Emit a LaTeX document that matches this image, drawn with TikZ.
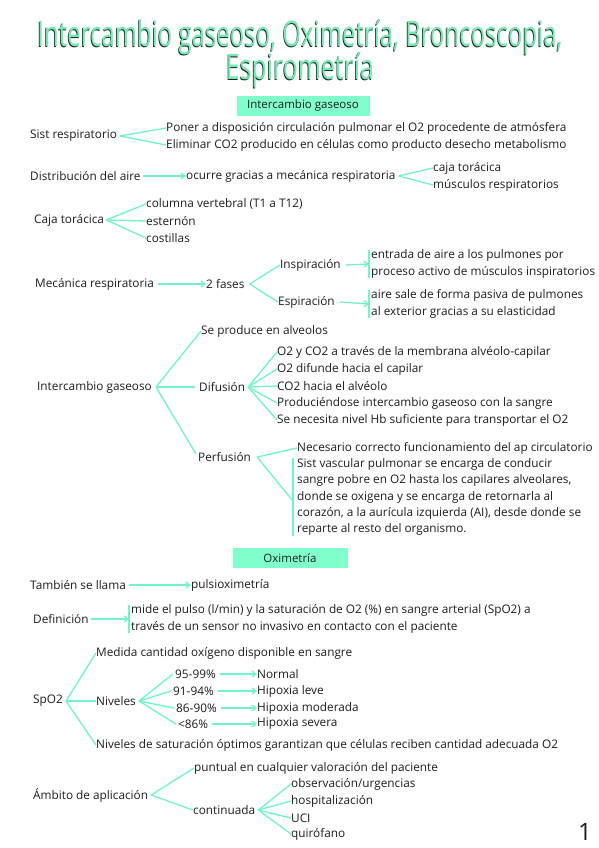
\documentclass[tikz,border=0pt]{standalone}
\usepackage{fontspec}
\setmainfont{Open Sans}
\usetikzlibrary{arrows.meta}
\definecolor{mint}{RGB}{110,245,200}
\definecolor{boxmint}{RGB}{128,255,204}
\definecolor{ink}{RGB}{30,30,30}
\definecolor{titlegreen}{RGB}{115,235,180}
\newcommand{\ttl}[2]{\resizebox{#1}{27pt}{#2}}
\begin{document}
\begin{tikzpicture}[x=1pt,y=-1pt,
 txt/.style={anchor=west,inner sep=0pt,text=ink,font=\fontsize{11.8}{16.4}\selectfont},
 para/.style={txt,align=left},
 br/.style={draw=mint,line width=1.3pt},
 arr/.style={br,-{Straight Barb[length=4pt,width=6pt]}},
 hdr/.style={fill=boxmint,inner sep=0pt,minimum height=20pt,text=ink,font=\fontsize{11.5}{13}\selectfont},
 bar/.style={draw=mint,line width=1.3pt},
 ttlnode/.style={inner sep=0,anchor=base}]
\useasboundingbox (0,0) rectangle (599,848);
\fill[white] (0,0) rectangle (599,848);
% title
\node[ttlnode,text=ink] (t1s) at (299.3,47.7) {\ttl{525pt}{Intercambio gaseoso, Oximetría, Broncoscopia,}};
\node[ttlnode,text=titlegreen] (t1) at (300,47) {\ttl{525pt}{Intercambio gaseoso, Oximetría, Broncoscopia,}};
\node[ttlnode,text=ink] (t2s) at (299.3,80.7) {\ttl{148pt}{Espirometría}};
\node[ttlnode,text=titlegreen] (t2) at (300,80) {\ttl{148pt}{Espirometría}};
\node[hdr,minimum width=133pt] (h1) at (303,106) {Intercambio gaseoso};
% Sist respiratorio
\node[txt] (sist) at (30,136) {Sist respiratorio};
\node[txt] (s1) at (166,128) {Poner a disposición circulación pulmonar el O2 procedente de atmósfera};
\node[txt] (s2) at (166,145) {Eliminar CO2 producido en células como producto desecho metabolismo};
\draw[br] ([xshift=3pt]sist.east) -- (s1.west);
\draw[br] ([xshift=3pt]sist.east) -- (s2.west);
% Distribucion
\node[txt] (dist) at (30,176) {Distribución del aire};
\node[txt] (ocu) at (186,176) {ocurre gracias a mecánica respiratoria};
\draw[arr] ([xshift=2pt]dist.east) -- (ocu.west);
\node[txt] (ct1) at (433,168) {caja torácica};
\node[txt] (mr1) at (433,185) {músculos respiratorios};
\draw[br] ([xshift=3pt]ocu.east) -- (ct1.west);
\draw[br] ([xshift=3pt]ocu.east) -- (mr1.west);
% Caja toracica
\node[txt] (caja) at (34,220) {Caja torácica};
\node[txt] (c1) at (146,204) {columna vertebral (T1 a T12)};
\node[txt] (c2) at (146,221) {esternón};
\node[txt] (c3) at (146,238) {costillas};
\foreach \n in {c1,c2,c3}{\draw[br] ([xshift=2pt]caja.east) -- (\n.west);}
% Mecanica
\node[txt] (mec) at (35,284) {Mecánica respiratoria};
\node[txt] (fases) at (206,284) {2 fases};
\draw[arr] ([xshift=4pt]mec.east) -- (fases.west);
\node[txt] (insp) at (280,265) {Inspiración};
\node[txt] (esp) at (278,302) {Espiración};
\draw[br] ([xshift=5pt]fases.east) -- (insp.west);
\draw[br] ([xshift=5pt]fases.east) -- (esp.west);
\node[para] (ip) at (371,264) {entrada de aire a los pulmones por\\proceso activo de músculos inspiratorios};
\node[para] (ep) at (371,304) {aire sale de forma pasiva de pulmones\\al exterior gracias a su elasticidad};
\draw[bar] ([xshift=-2pt]ip.north west) -- ([xshift=-2pt]ip.south west);
\draw[bar] ([xshift=-2pt]ep.north west) -- ([xshift=-2pt]ep.south west);
\draw[arr] ([xshift=5pt]insp.east) -- ([xshift=-2pt]ip.west);
\draw[arr] ([xshift=5pt]esp.east) -- ([xshift=-2pt]ep.west);
% Intercambio gaseoso
\node[txt] (ig) at (37,387) {Intercambio gaseoso};
\node[txt] (alv) at (201,331) {Se produce en alveolos};
\node[txt] (dif) at (199,387) {Difusión};
\node[txt] (perf) at (198,457) {Perfusión};
\draw[br] ([xshift=4pt]ig.east) -- (alv.west);
\draw[br] ([xshift=4pt]ig.east) -- ([xshift=-4pt]dif.west);
\draw[br] ([xshift=4pt]ig.east) -- ([xshift=-2pt,yshift=3pt]perf.west);
\node[txt] (d1) at (277,352) {O2 y CO2 a través de la membrana alvéolo-capilar};
\node[txt] (d2) at (277,369) {O2 difunde hacia el capilar};
\node[txt] (d3) at (277,386) {CO2 hacia el alvéolo};
\node[txt] (d4) at (277,403) {Produciéndose intercambio gaseoso con la sangre};
\node[txt] (d5) at (277,420) {Se necesita nivel Hb suficiente para transportar el O2};
\foreach \n in {d1,d2,d3,d4,d5}{\draw[br] ([xshift=3pt]dif.east) -- (\n.west);}
\node[txt] (n1) at (297,448) {Necesario correcto funcionamiento del ap circulatorio};
\node[para] (pp) at (297,497) {Sist vascular pulmonar se encarga de conducir\\sangre pobre en O2 hasta los capilares alveolares,\\donde se oxigena y se encarga de retornarla al\\corazón, a la aurícula izquierda (AI), desde donde se\\reparte al resto del organismo.};
\draw[bar] ([xshift=-4pt]pp.north west) -- ([xshift=-4pt]pp.south west);
\draw[br] ([xshift=6pt]perf.east) -- (n1.west);
\draw[br] ([xshift=6pt]perf.east) -- ([xshift=-4pt,yshift=-4pt]pp.west);
% Oximetria
\node[hdr,minimum width=115pt] (h2) at (290,558) {Oximetría};
\node[txt] (tamb) at (30,585) {También se llama};
\node[txt] (pulsi) at (191,585) {pulsioximetría};
\draw[arr] ([xshift=3pt]tamb.east) -- (pulsi.west);
\node[txt] (def) at (33,619) {Definición};
\node[para] (dp) at (131,619) {mide el pulso (l/min) y la saturación de O2 (\%) en sangre arterial (SpO2) a\\través de un sensor no invasivo en contacto con el paciente};
\draw[bar] ([xshift=-2pt]dp.north west) -- ([xshift=-2pt]dp.south west);
\draw[arr] ([xshift=2pt]def.east) -- ([xshift=-2pt]dp.west);
% SpO2
\node[txt] (spo) at (33,701) {SpO2};
\node[txt] (med) at (96,653) {Medida cantidad oxígeno disponible en sangre};
\node[txt] (niv) at (96,701) {Niveles};
\node[txt] (nsat) at (96,745) {Niveles de saturación óptimos garantizan que células reciben cantidad adecuada O2};
\foreach \n in {med,niv,nsat}{\draw[br] ([xshift=3pt]spo.east) -- (\n.west);}
\node[txt] (l1) at (175,674) {95-99\%};
\node[txt] (l2) at (173,691) {91-94\%};
\node[txt] (l3) at (176,708) {86-90\%};
\node[txt] (l4) at (178,724) {<86\%};
\node[txt] (r1) at (257,674) {Normal};
\node[txt] (r2) at (257,691) {Hipoxia leve};
\node[txt] (r3) at (257,708) {Hipoxia moderada};
\node[txt] (r4) at (257,724) {Hipoxia severa};
\foreach \i in {1,2,3,4}{
 \draw[br] ([xshift=3pt]niv.east) -- ([xshift=-2pt]l\i.west);
 \draw[arr] ([xshift=4pt]l\i.east) -- (r\i.west);}
% Ambito
\node[txt] (amb) at (33,795) {Ámbito de aplicación};
\node[txt] (pun) at (194,768) {puntual en cualquier valoración del paciente};
\node[txt] (cont) at (193,810) {continuada};
\draw[br] ([xshift=3pt]amb.east) -- (pun.west);
\draw[br] ([xshift=3pt]amb.east) -- (cont.west);
\node[txt] (o1) at (291,784) {observación/urgencias};
\node[txt] (o2) at (291,801) {hospitalización};
\node[txt] (o3) at (291,818) {UCI};
\node[txt] (o4) at (291,834) {quirófano};
\foreach \n in {o1,o2,o3,o4}{\draw[br] ([xshift=3pt]cont.east) -- (\n.west);}
\node[inner sep=0,text=ink,font=\fontsize{24}{24}\selectfont] (pg) at (585,832) {1};
\end{tikzpicture}
\end{document}
